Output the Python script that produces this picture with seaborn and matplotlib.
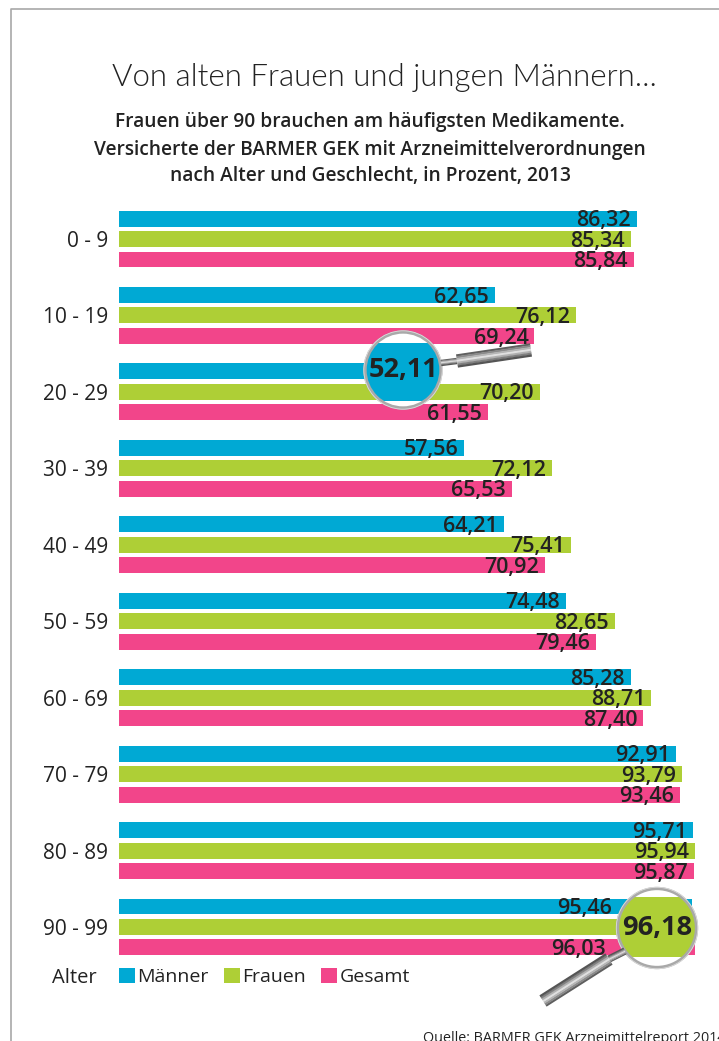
import matplotlib
matplotlib.use("Agg")
import matplotlib.pyplot as plt
from matplotlib.patches import Circle, Rectangle
import numpy as np
import pandas as pd
import seaborn as sns

age_groups = ["0 - 9", "10 - 19", "20 - 29", "30 - 39", "40 - 49",
              "50 - 59", "60 - 69", "70 - 79", "80 - 89", "90 - 99"]
maenner = [86.32, 62.65, 52.11, 57.56, 64.21, 74.48, 85.28, 92.91, 95.71, 95.46]
frauen = [85.34, 76.12, 70.20, 72.12, 75.41, 82.65, 88.71, 93.79, 95.94, 96.18]
gesamt = [85.84, 69.24, 61.55, 65.53, 70.92, 79.46, 87.40, 93.46, 95.87, 96.03]
series_names = ["Männer", "Frauen", "Gesamt"]
colors = ["#00a9d4", "#aecf36", "#f2458a"]

title = "Von alten Frauen und jungen Männern..."
subtitle = ["Frauen über 90 brauchen am häufigsten Medikamente.",
            "Versicherte der BARMER GEK mit Arzneimittelverordnungen",
            "nach Alter und Geschlecht, in Prozent, 2013"]
source = "Quelle: BARMER GEK Arzneimittelreport 2014"

TEXT = "#222222"
W, H = 719, 1041

sns.set_theme(style="white")
plt.rcParams["font.family"] = ["Open Sans", "DejaVu Sans"]

df = pd.DataFrame({"Alter": age_groups, "Männer": maenner, "Frauen": frauen, "Gesamt": gesamt})
long_df = df.melt(id_vars="Alter", var_name="Gruppe", value_name="Prozent")

fig = plt.figure(figsize=(W / 100, H / 100), dpi=100)

# axes box in pixels: left 119, top 200.8, bottom 965.2
ax = fig.add_axes([119 / W, 1 - 965.2 / H, (W - 119) / W, (965.2 - 200.8) / H])
sns.barplot(data=long_df, y="Alter", x="Prozent", hue="Gruppe", hue_order=series_names,
            palette=colors, order=age_groups, width=0.804, gap=0.22, saturation=1,
            linewidth=0, ax=ax)
ax.set_xlim(0, (W - 119) / 6.0)
ax.set_ylim(9.5, -0.5)
ax.set_xlabel("")
ax.set_ylabel("")
ax.set_xticks([])
ax.tick_params(axis="y", length=0, pad=8, labelsize=15, labelcolor=TEXT)
sns.despine(ax=ax, left=True, bottom=True)
ax.patch.set_alpha(0)

# value labels sit inside the bar end, two are pushed left by the big lenses
label_shift = {95.46: -80, 96.03: -89}
big_values = [52.11, 96.18]
for container, values in zip(ax.containers, [maenner, frauen, gesamt]):
    for bar, v in zip(container, values):
        if v in big_values:
            continue
        ax.annotate(f"{v:.2f}".replace(".", ","),
                    (v, bar.get_y() + bar.get_height() / 2),
                    xytext=(label_shift.get(v, -6) * 0.72, -1.5), textcoords="offset points",
                    ha="right", va="center", fontsize=15.5, fontweight=600, color=TEXT)

sns.move_legend(ax, "lower left", bbox_to_anchor=(0.0, 1 - (986 - 200.8) / (965.2 - 200.8)),
                ncol=3, frameon=False, title=None, fontsize=14, borderpad=0, borderaxespad=0,
                handlelength=0.82, handleheight=0.82, handletextpad=0.12, columnspacing=0.78,
                labelcolor=TEXT)

# overlay in pixel coordinates for frame, headings and magnifiers
ov = fig.add_axes([0, 0, 1, 1], zorder=5)
ov.set_xlim(0, W)
ov.set_ylim(H, 0)
ov.axis("off")

ov.plot([11, 11, W], [H, 8.5, 8.5], color="#a8a8a8", lw=1.2)

ov.text(384, 77, title, ha="center", va="center", fontsize=22.5, family=["Lato", "DejaVu Sans"],
        fontweight=300, color=TEXT)
for y, line in zip([122.5, 149.5, 175.5], subtitle):
    ov.text(370, y, line, ha="center", va="center", fontsize=13.8, fontweight=600, color=TEXT)
ov.text(97, 978, "Alter", ha="right", va="center", fontsize=14.5, color=TEXT)
ov.text(423, 1038, source, ha="left", va="center", fontsize=10.4, color=TEXT)


def handle(x0, y0, x1, y1, width):
    # stacked strips to fake the metal shine
    shades = ["#5f5f5f", "#8a8a8a", "#b5b5b5", "#e0e0e0", "#b0b0b0", "#808080", "#555555"]
    d = np.array([x1 - x0, y1 - y0], dtype=float)
    n = np.array([-d[1], d[0]]) / np.hypot(*d)
    step = width / len(shades)
    for i, c in enumerate(shades):
        off = (i - (len(shades) - 1) / 2) * step
        ov.plot([x0 + n[0] * off, x1 + n[0] * off], [y0 + n[1] * off, y1 + n[1] * off],
                color=c, lw=step * 0.72 + 0.3, solid_capstyle="butt")


def lens(cx, cy, r, color, band_top, band_bottom, text):
    face = Circle((cx, cy), r, fc="white", ec="none")
    ov.add_patch(face)
    band = Rectangle((cx - r, band_top), 2 * r, band_bottom - band_top, fc=color, ec="none")
    ov.add_patch(band)
    band.set_clip_path(face)
    ov.add_patch(Circle((cx, cy), r, fc="none", ec="#a9a9a9", lw=2.4))
    ov.add_patch(Circle((cx, cy), r + 1.2, fc="none", ec="#dddddd", lw=0.6))
    ov.text(cx, cy, text, ha="center", va="center", fontsize=19.5, fontweight="bold", color=TEXT)


handle(441, 363, 457, 361, 6)
handle(457, 361, 531, 350, 13)
handle(625, 951, 609, 959, 7)
handle(609, 959, 543, 1001, 13)
lens(403, 370, 38, colors[0], 343, 401, f"{big_values[0]:.2f}".replace(".", ","))
lens(657, 928, 39.5, colors[1], 897, 957, f"{big_values[1]:.2f}".replace(".", ","))

fig.savefig("out.png", dpi=100)
